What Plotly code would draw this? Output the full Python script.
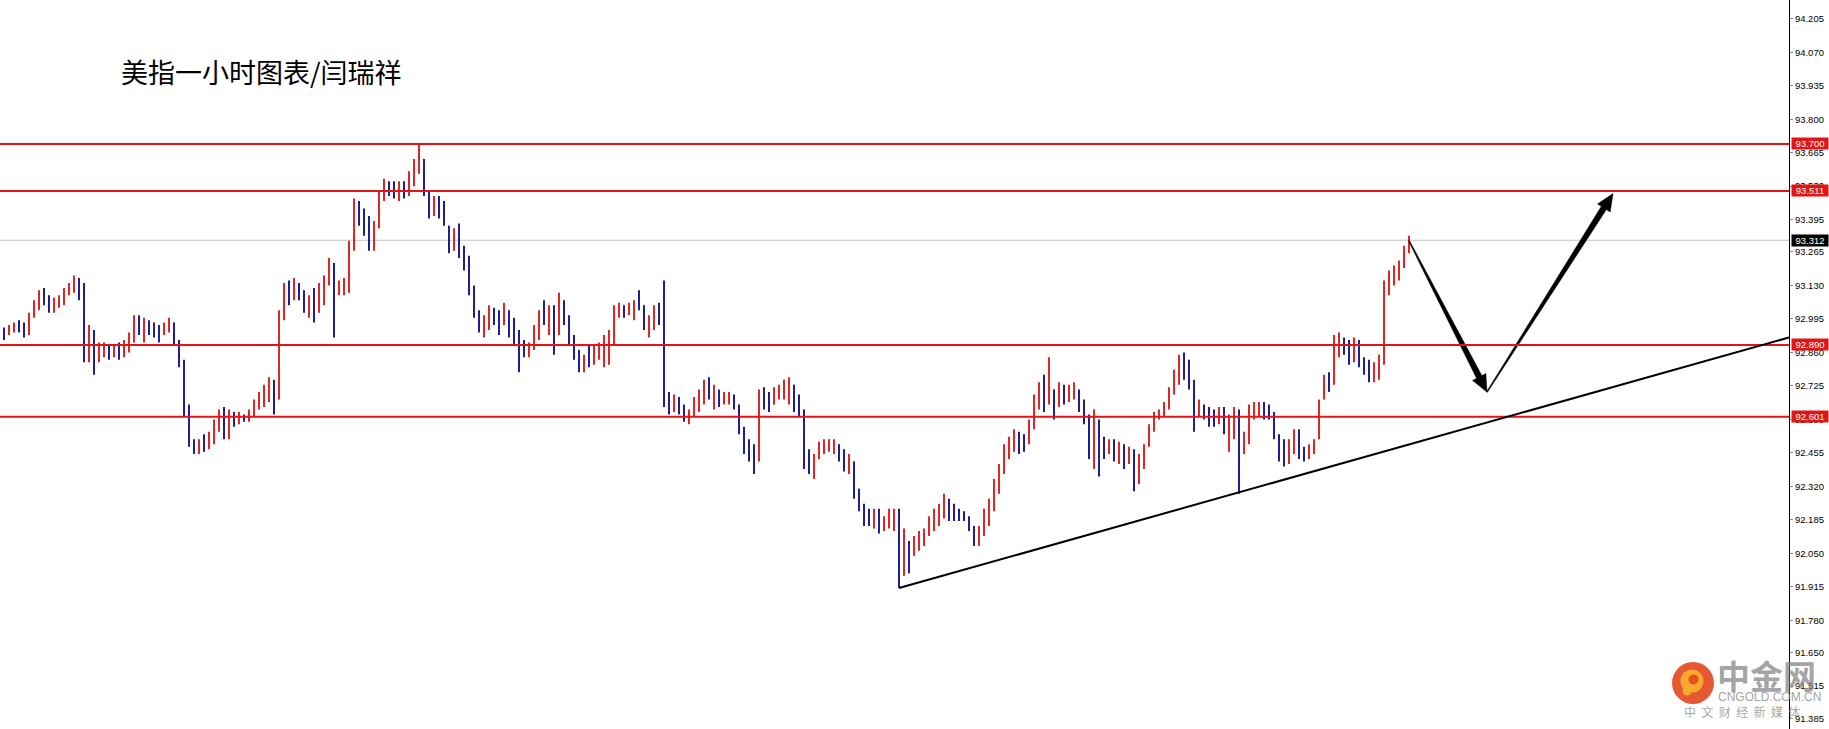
import math
import plotly.graph_objects as go

# ---------------- data ----------------
title_text = "美指一小时图表/闫瑞祥"

high = [
    92.96, 92.97, 92.98, 92.99, 92.98, 93.02, 93.07, 93.11, 93.12, 93.09,
    93.08, 93.09, 93.12, 93.14, 93.17, 93.16, 93.14, 92.97, 92.95, 92.90,
    92.90, 92.89, 92.89, 92.90, 92.91, 92.94, 93.01, 93.01, 93.00, 92.99,
    92.98, 92.97, 92.98, 93.00, 92.98, 92.91, 92.83, 92.65, 92.51, 92.51,
    92.53, 92.54, 92.59, 92.63, 92.64, 92.63, 92.62, 92.62, 92.61, 92.63,
    92.67, 92.70, 92.73, 92.76, 92.75, 93.03, 93.14, 93.15, 93.16, 93.14,
    93.11, 93.09, 93.12, 93.14, 93.17, 93.24, 93.22, 93.15, 93.16, 93.31,
    93.48, 93.47, 93.44, 93.41, 93.39, 93.51, 93.56, 93.55, 93.55, 93.55,
    93.55, 93.59, 93.64, 93.70, 93.64, 93.51, 93.49, 93.49, 93.47, 93.37,
    93.36, 93.38, 93.29, 93.25, 93.13, 93.03, 93.01, 93.05, 93.04, 93.03,
    93.06, 93.03, 93.00, 92.95, 92.91, 92.90, 92.97, 93.03, 93.07, 93.05,
    93.05, 93.10, 93.07, 93.01, 92.93, 92.87, 92.85, 92.89, 92.89, 92.90,
    92.93, 92.95, 93.05, 93.06, 93.05, 93.06, 93.07, 93.11, 93.05, 93.01,
    93.05, 93.06, 93.15, 92.70, 92.69, 92.68, 92.65, 92.63, 92.68, 92.71,
    92.75, 92.76, 92.73, 92.71, 92.70, 92.70, 92.69, 92.65, 92.56, 92.51,
    92.49, 92.71, 92.72, 92.70, 92.72, 92.73, 92.75, 92.76, 92.73, 92.69,
    92.63, 92.47, 92.45, 92.50, 92.51, 92.51, 92.51, 92.49, 92.47, 92.45,
    92.42, 92.31, 92.25, 92.23, 92.23, 92.23, 92.20, 92.23, 92.23, 92.23,
    92.15, 92.10, 92.12, 92.14, 92.15, 92.20, 92.23, 92.25, 92.29, 92.27,
    92.25, 92.23, 92.22, 92.20, 92.16, 92.16, 92.23, 92.27, 92.35, 92.41,
    92.49, 92.52, 92.55, 92.54, 92.53, 92.59, 92.69, 92.74, 92.77, 92.84,
    92.71, 92.74, 92.73, 92.73, 92.74, 92.71, 92.67, 92.61, 92.63, 92.59,
    92.52, 92.51, 92.51, 92.50, 92.49, 92.48, 92.47, 92.45, 92.49, 92.57,
    92.62, 92.63, 92.66, 92.72, 92.79, 92.85, 92.86, 92.83, 92.75, 92.67,
    92.65, 92.64, 92.63, 92.64, 92.64, 92.61, 92.64, 92.63, 92.54, 92.65,
    92.66, 92.66, 92.66, 92.65, 92.62, 92.53, 92.51, 92.51, 92.55, 92.55,
    92.48, 92.49, 92.51, 92.67, 92.77, 92.78, 92.93, 92.94, 92.92, 92.91,
    92.92, 92.91, 92.84, 92.83, 92.82, 92.85, 93.15, 93.19, 93.21, 93.23,
    93.29, 93.33,
]

low = [
    92.91, 92.93, 92.94, 92.94, 92.92, 92.93, 93.00, 93.03, 93.05, 93.02,
    93.02, 93.04, 93.05, 93.09, 93.10, 93.07, 92.82, 92.82, 92.77, 92.82,
    92.84, 92.83, 92.84, 92.83, 92.84, 92.86, 92.90, 92.93, 92.90, 92.93,
    92.92, 92.90, 92.93, 92.94, 92.89, 92.80, 92.60, 92.48, 92.45, 92.45,
    92.46, 92.47, 92.49, 92.54, 92.51, 92.51, 92.56, 92.57, 92.58, 92.58,
    92.60, 92.63, 92.64, 92.66, 92.61, 92.67, 92.99, 93.05, 93.07, 93.07,
    93.02, 93.00, 92.98, 93.02, 93.05, 93.13, 92.92, 93.09, 93.09, 93.10,
    93.27, 93.37, 93.33, 93.27, 93.27, 93.36, 93.47, 93.49, 93.48, 93.47,
    93.48, 93.49, 93.53, 93.58, 93.49, 93.40, 93.41, 93.40, 93.37, 93.26,
    93.27, 93.24, 93.19, 93.09, 93.00, 92.94, 92.92, 92.95, 92.97, 92.93,
    92.97, 92.92, 92.89, 92.78, 92.84, 92.84, 92.87, 92.91, 92.97, 92.93,
    92.85, 92.93, 92.97, 92.89, 92.83, 92.78, 92.78, 92.80, 92.81, 92.83,
    92.80, 92.81, 92.89, 93.00, 93.00, 93.01, 92.99, 93.03, 92.95, 92.92,
    92.95, 92.97, 92.64, 92.61, 92.62, 92.61, 92.58, 92.57, 92.60, 92.62,
    92.65, 92.67, 92.63, 92.64, 92.65, 92.65, 92.63, 92.53, 92.45, 92.42,
    92.37, 92.42, 92.63, 92.62, 92.65, 92.67, 92.67, 92.65, 92.62, 92.60,
    92.39, 92.37, 92.35, 92.43, 92.45, 92.46, 92.45, 92.42, 92.38, 92.37,
    92.27, 92.22, 92.16, 92.16, 92.15, 92.13, 92.14, 92.15, 92.14, 91.91,
    91.96, 91.97, 92.04, 92.06, 92.08, 92.12, 92.14, 92.16, 92.19, 92.18,
    92.18, 92.18, 92.18, 92.14, 92.08, 92.08, 92.12, 92.16, 92.22, 92.29,
    92.37, 92.43, 92.46, 92.45, 92.46, 92.49, 92.55, 92.63, 92.62, 92.65,
    92.59, 92.64, 92.65, 92.66, 92.67, 92.62, 92.57, 92.43, 92.39, 92.36,
    92.43, 92.45, 92.42, 92.41, 92.39, 92.41, 92.30, 92.33, 92.39, 92.48,
    92.54, 92.59, 92.60, 92.63, 92.69, 92.73, 92.75, 92.71, 92.54, 92.60,
    92.59, 92.56, 92.56, 92.57, 92.53, 92.46, 92.51, 92.29, 92.45, 92.49,
    92.59, 92.60, 92.59, 92.59, 92.51, 92.42, 92.40, 92.41, 92.45, 92.43,
    92.42, 92.43, 92.45, 92.51, 92.67, 92.70, 92.73, 92.84, 92.85, 92.81,
    92.82, 92.80, 92.77, 92.74, 92.74, 92.75, 92.81, 93.09, 93.13, 93.15,
    93.20, 93.26,
]

close = [
    92.94, 92.95, 92.97, 92.95, 92.93, 93.01, 93.05, 93.08, 93.07, 93.04,
    93.06, 93.07, 93.10, 93.13, 93.15, 93.11, 92.87, 92.91, 92.85, 92.87,
    92.88, 92.86, 92.87, 92.85, 92.89, 92.92, 92.99, 92.95, 92.97, 92.95,
    92.94, 92.92, 92.97, 92.98, 92.91, 92.82, 92.63, 92.51, 92.48, 92.50,
    92.48, 92.51, 92.57, 92.61, 92.55, 92.60, 92.59, 92.60, 92.59, 92.61,
    92.65, 92.68, 92.69, 92.73, 92.65, 93.00, 93.12, 93.09, 93.13, 93.11,
    93.05, 93.07, 93.03, 93.07, 93.14, 93.21, 93.11, 93.13, 93.14, 93.28,
    93.43, 93.41, 93.37, 93.31, 93.36, 93.49, 93.53, 93.52, 93.51, 93.53,
    93.51, 93.56, 93.62, 93.64, 93.52, 93.43, 93.47, 93.44, 93.39, 93.29,
    93.33, 93.27, 93.22, 93.11, 93.02, 92.97, 92.99, 93.02, 93.00, 92.95,
    93.04, 92.93, 92.91, 92.89, 92.87, 92.89, 92.95, 93.01, 93.00, 93.03,
    92.89, 93.07, 92.99, 92.91, 92.85, 92.81, 92.83, 92.82, 92.85, 92.87,
    92.89, 92.93, 93.03, 93.05, 93.03, 93.04, 93.06, 93.05, 92.97, 92.99,
    93.02, 93.01, 92.67, 92.65, 92.67, 92.63, 92.60, 92.62, 92.66, 92.69,
    92.73, 92.69, 92.71, 92.67, 92.68, 92.68, 92.65, 92.55, 92.49, 92.47,
    92.41, 92.69, 92.67, 92.65, 92.69, 92.71, 92.72, 92.73, 92.65, 92.63,
    92.43, 92.41, 92.42, 92.48, 92.48, 92.49, 92.50, 92.45, 92.41, 92.43,
    92.31, 92.23, 92.20, 92.18, 92.19, 92.16, 92.18, 92.20, 92.22, 92.00,
    92.08, 92.02, 92.10, 92.11, 92.14, 92.18, 92.20, 92.23, 92.25, 92.23,
    92.20, 92.20, 92.19, 92.16, 92.11, 92.14, 92.20, 92.25, 92.33, 92.39,
    92.47, 92.49, 92.53, 92.51, 92.51, 92.57, 92.67, 92.71, 92.69, 92.73,
    92.65, 92.70, 92.69, 92.71, 92.72, 92.65, 92.59, 92.47, 92.59, 92.49,
    92.48, 92.49, 92.45, 92.47, 92.43, 92.45, 92.39, 92.41, 92.47, 92.55,
    92.61, 92.61, 92.65, 92.70, 92.77, 92.82, 92.79, 92.73, 92.63, 92.65,
    92.63, 92.61, 92.59, 92.61, 92.55, 92.57, 92.61, 92.49, 92.51, 92.63,
    92.63, 92.64, 92.62, 92.62, 92.53, 92.47, 92.45, 92.49, 92.51, 92.47,
    92.45, 92.47, 92.51, 92.65, 92.75, 92.73, 92.89, 92.91, 92.90, 92.87,
    92.89, 92.83, 92.80, 92.77, 92.79, 92.83, 93.11, 93.17, 93.18, 93.21,
    93.27, 93.312,
]
first_open = 92.95

levels = [93.700, 93.511, 92.890, 92.601]
level_labels = ["93.700", "93.511", "92.890", "92.601"]
current_price = 93.312
current_label = "93.312"

tick_vals = [94.205, 94.070, 93.935, 93.800, 93.665, 93.530, 93.395, 93.265,
             93.130, 92.995, 92.860, 92.725, 92.590, 92.455, 92.320, 92.185,
             92.050, 91.915, 91.780, 91.650, 91.515, 91.385]
tick_text = ["94.205", "94.070", "93.935", "93.800", "93.665", "93.530", "93.395", "93.265",
             "93.130", "92.995", "92.860", "92.725", "92.590", "92.455", "92.320", "92.185",
             "92.050", "91.915", "91.780", "91.650", "91.515", "91.385"]

trend_x = [179, 357]
trend_y = [91.91, 92.92]

arrow_down_x = [281, 296.6]
arrow_down_y = [93.31, 92.70]
arrow_up_x = [296.6, 321.8]
arrow_up_y = [92.70, 93.50]

# ---------------- figure geometry ----------------
W, H = 1829, 729
PW, PH = 1789, 729          # plot area (right margin holds the price scale)
XR = [-0.8, 357.0]
YR = [91.342, 94.2804]

UP = "#e02525"
DN = "#1e1e96"
LEVEL_RED = "#e31414"

n = len(close)
xs = list(range(n))
opens = []
for i in range(n):
    o = first_open if i == 0 else close[i - 1]
    o = min(max(o, low[i]), high[i])
    opens.append(o)

fig = go.Figure()
fig.add_trace(go.Ohlc(
    x=xs, open=opens, high=high, low=low, close=close,
    increasing=dict(line=dict(color=UP, width=2)),
    decreasing=dict(line=dict(color=DN, width=2)),
    tickwidth=0.04, hoverinfo="skip", showlegend=False,
))


def to_px(x, y):
    return ((x - XR[0]) / (XR[1] - XR[0]) * PW, (YR[1] - y) / (YR[1] - YR[0]) * PH)


def to_data(px, py):
    return (XR[0] + px / PW * (XR[1] - XR[0]), YR[1] - py / PH * (YR[1] - YR[0]))


def tapered_arrow(xa, ya, xb, yb, w0=1.0, w1=6.0, head_len=17.0, head_w=15.0):
    ax, ay = to_px(xa, ya)
    bx, by = to_px(xb, yb)
    dx, dy = bx - ax, by - ay
    L = math.hypot(dx, dy)
    ux, uy = dx / L, dy / L
    nx, ny = -uy, ux
    cx, cy = bx - ux * head_len, by - uy * head_len
    pts = [
        (ax + nx * w0 / 2, ay + ny * w0 / 2),
        (cx + nx * w1 / 2, cy + ny * w1 / 2),
        (cx + nx * head_w / 2, cy + ny * head_w / 2),
        (bx, by),
        (cx - nx * head_w / 2, cy - ny * head_w / 2),
        (cx - nx * w1 / 2, cy - ny * w1 / 2),
        (ax - nx * w0 / 2, ay - ny * w0 / 2),
    ]
    pts.append(pts[0])
    d = [to_data(p[0], p[1]) for p in pts]
    return [p[0] for p in d], [p[1] for p in d]


for axs, ays in [(arrow_down_x, arrow_down_y), (arrow_up_x, arrow_up_y)]:
    px_, py_ = tapered_arrow(axs[0], ays[0], axs[1], ays[1])
    fig.add_trace(go.Scatter(x=px_, y=py_, mode="lines", fill="toself",
                             fillcolor="black", line=dict(color="black", width=0.5),
                             hoverinfo="skip", showlegend=False))

shapes = []
# current price line (behind bars)
shapes.append(dict(type="line", xref="paper", yref="y", x0=0, x1=1,
                   y0=current_price, y1=current_price, layer="below",
                   line=dict(color="#c4c4c4", width=1)))
for lv in levels:
    shapes.append(dict(type="line", xref="paper", yref="y", x0=0, x1=1,
                       y0=lv, y1=lv, line=dict(color=LEVEL_RED, width=2)))
shapes.append(dict(type="line", xref="x", yref="y", x0=trend_x[0], x1=trend_x[1],
                   y0=trend_y[0], y1=trend_y[1], line=dict(color="black", width=2)))

# watermark logo (circle)
lx, ly = 1693 / PW, 1 - 683 / PH
def circ(cx, cy, r, color):
    return dict(type="circle", xref="paper", yref="paper", xsizemode="pixel", ysizemode="pixel",
                xanchor=lx, yanchor=ly, x0=cx - r, x1=cx + r, y0=cy - r, y1=cy + r,
                fillcolor=color, line=dict(width=0), layer="above", opacity=0.9)
shapes.append(circ(0, 0, 21, "#e2461e"))
shapes.append(circ(-1, 2, 11.5, "#f7b02e"))
shapes.append(circ(0.5, 3.5, 5, "#e2461e"))
shapes.append(circ(-6, -8, 4.5, "#f7b02e"))

annotations = []
annotations.append(dict(text=title_text, xref="paper", yref="paper",
                        x=119 / PW, y=1 - 71 / PH, xanchor="left", yanchor="middle",
                        showarrow=False,
                        font=dict(family="Noto Sans CJK SC", size=27, color="black")))

for lv, lab in zip(levels, level_labels):
    annotations.append(dict(text=lab, xref="paper", yref="y", x=1, xshift=2, y=lv,
                            xanchor="left", yanchor="middle", showarrow=False,
                            bgcolor=LEVEL_RED, width=36, height=11, borderpad=0,
                            font=dict(family="Liberation Sans", size=9.5, color="white")))
annotations.append(dict(text=current_label, xref="paper", yref="y", x=1, xshift=2, y=current_price,
                        xanchor="left", yanchor="middle", showarrow=False,
                        bgcolor="black", width=36, height=11, borderpad=0,
                        font=dict(family="Liberation Sans", size=9.5, color="white")))

# watermark texts
annotations.append(dict(text="<b>中金网</b>", xref="paper", yref="paper",
                        x=1766 / PW, y=1 - 675 / PH, xanchor="center", yanchor="middle",
                        showarrow=False,
                        font=dict(family="Noto Sans CJK SC", size=33, color="rgba(130,130,130,0.72)")))
annotations.append(dict(text="CNGOLD.COM.CN", xref="paper", yref="paper",
                        x=1769 / PW, y=1 - 697 / PH, xanchor="center", yanchor="middle",
                        showarrow=False,
                        font=dict(family="Liberation Sans", size=12, color="rgba(140,140,140,0.8)")))
annotations.append(dict(text="中  文  财  经  新  媒  体", xref="paper", yref="paper",
                        x=1742 / PW, y=1 - 711 / PH, xanchor="center", yanchor="middle",
                        showarrow=False,
                        font=dict(family="Noto Sans CJK SC", size=12, color="rgba(150,150,150,0.85)")))

fig.update_layout(
    width=W, height=H,
    margin=dict(l=0, r=W - PW, t=0, b=0, pad=0),
    paper_bgcolor="white", plot_bgcolor="white",
    showlegend=False,
    shapes=shapes, annotations=annotations,
    xaxis=dict(range=XR, visible=False, rangeslider=dict(visible=False), fixedrange=True),
    yaxis=dict(range=YR, side="right", showgrid=False, zeroline=False,
               showline=True, linecolor="black", linewidth=1,
               ticks="outside", ticklen=3, tickcolor="#8a8a8a", tickwidth=1,
               tickvals=tick_vals, ticktext=tick_text,
               tickfont=dict(family="Liberation Sans", size=9.5, color="black"),
               fixedrange=True),
)

fig.write_html(
    "out.html",
    config={"displayModeBar": False},
    post_script="document.body.style.margin='0';document.body.style.overflow='hidden';",
)
